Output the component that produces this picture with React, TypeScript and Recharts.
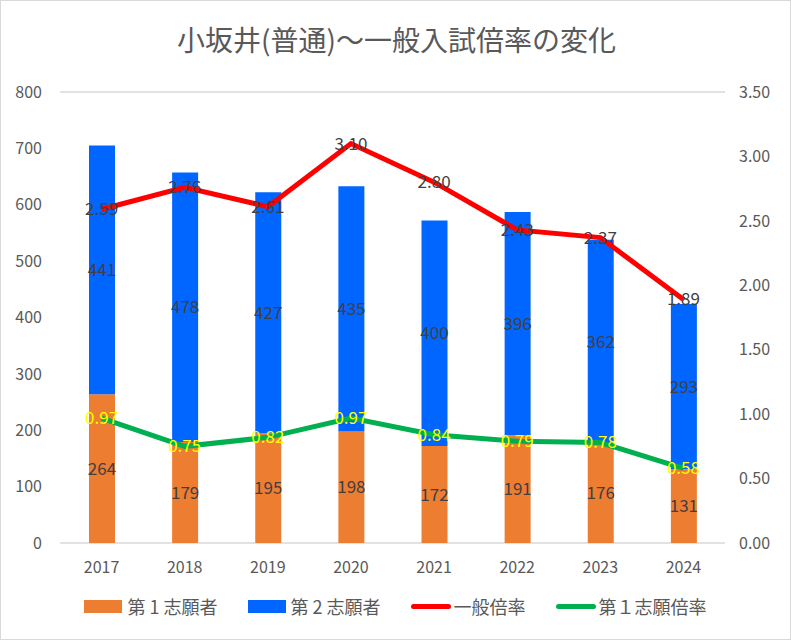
import React from "react";
import { ComposedChart, Bar, Line, XAxis, YAxis, CartesianGrid, Legend, LabelList } from "recharts";

const years = ["2017", "2018", "2019", "2020", "2021", "2022", "2023", "2024"];
const first = [264, 179, 195, 198, 172, 191, 176, 131];
const second = [441, 478, 427, 435, 400, 396, 362, 293];
const generalRate = [2.59, 2.76, 2.61, 3.10, 2.80, 2.43, 2.37, 1.89];
const firstRate = [0.97, 0.75, 0.82, 0.97, 0.84, 0.79, 0.78, 0.58];
const leftTicks = [0, 100, 200, 300, 400, 500, 600, 700, 800];
const rightTicks = [0, 0.5, 1, 1.5, 2, 2.5, 3, 3.5];

const data = years.map((y, i) => ({
  year: y,
  first: first[i],
  second: second[i],
  general: generalRate[i],
  firstRate: firstRate[i],
}));

const FONT = "'Noto Sans CJK JP', 'Noto Sans', sans-serif";
const GRAY = "#595959";

const lineLabel = (color: string) => (props: any) => {
  const { x, y, value } = props;
  return (
    <text x={x} y={y} dy={6} textAnchor="middle" fill={color} fontSize={17} fontFamily={FONT}>
      {Number(value).toFixed(2)}
    </text>
  );
};

const barLabel = (props: any) => {
  const { x, y, width, height, value } = props;
  return (
    <text x={x + width / 2} y={y + height / 2} dy={6} textAnchor="middle" fill="#404040" fontSize={17} fontFamily={FONT}>
      {value}
    </text>
  );
};

const legendItems = [
  { label: "第 1 志願者", color: "#ED7D31", type: "rect" },
  { label: "第 2 志願者", color: "#0066FF", type: "rect" },
  { label: "一般倍率", color: "#FF0000", type: "line" },
  { label: "第１志願倍率", color: "#00B050", type: "line" },
];

const renderLegend = () => (
  <div style={{ display: "flex", justifyContent: "center", alignItems: "center", height: 60, paddingBottom: 6, boxSizing: "border-box", fontFamily: FONT, fontSize: 18, color: GRAY }}>
    {legendItems.map((it) => (
      <div key={it.label} style={{ display: "flex", alignItems: "center", margin: "0 15px" }}>
        {it.type === "rect" ? (
          <div style={{ width: 38, height: 13, background: it.color, marginRight: 5 }} />
        ) : (
          <div style={{ width: 40, height: 5, borderRadius: 3, background: it.color, marginRight: 3 }} />
        )}
        <span>{it.label}</span>
      </div>
    ))}
  </div>
);

export default function App() {
  return (
    <div style={{ position: "absolute", left: 0, top: 0, width: 791, height: 640, boxSizing: "border-box", border: "1px solid #d9d9d9", background: "#fff" }}>
      <div style={{ position: "absolute", left: 0, top: 18, width: 791, textAlign: "center", fontFamily: FONT, fontSize: 28, color: GRAY }}>
        小坂井(普通)～一般入試倍率の変化
      </div>
      <div style={{ position: "absolute", left: -1, top: -1 }}>
        <ComposedChart width={791} height={640} data={data} margin={{ top: 92, right: 0, bottom: 0, left: 0 }}>
          <CartesianGrid vertical={false} stroke="#d9d9d9" strokeWidth={1.5} />
          <XAxis dataKey="year" axisLine={false} tickLine={false} height={36} tick={{ fill: GRAY, fontSize: 16, fontFamily: FONT }} tickMargin={13} />
          <YAxis yAxisId="left" width={60} domain={[0, 800]} ticks={leftTicks} axisLine={false} tickLine={false} tickSize={0} tickMargin={18} tick={{ fill: GRAY, fontSize: 16, fontFamily: FONT }} interval={0} />
          <YAxis yAxisId="right" orientation="right" width={66} domain={[0, 3.5]} ticks={rightTicks} axisLine={false} tickLine={false} tickSize={0} tickMargin={14} tick={{ fill: GRAY, fontSize: 16, fontFamily: FONT, textAnchor: "start" }} tickFormatter={(v: number) => v.toFixed(2)} interval={0} />
          <Legend verticalAlign="bottom" height={61} content={renderLegend} />
          <Bar yAxisId="left" dataKey="first" stackId="a" fill="#ED7D31" barSize={26} isAnimationActive={false}>
            <LabelList dataKey="first" content={barLabel} />
          </Bar>
          <Bar yAxisId="left" dataKey="second" stackId="a" fill="#0066FF" barSize={26} isAnimationActive={false}>
            <LabelList dataKey="second" content={barLabel} />
          </Bar>
          <Line yAxisId="right" dataKey="general" stroke="#FF0000" strokeWidth={5} dot={false} isAnimationActive={false}>
            <LabelList dataKey="general" content={lineLabel("#404040")} />
          </Line>
          <Line yAxisId="right" dataKey="firstRate" stroke="#00B050" strokeWidth={5} dot={false} isAnimationActive={false}>
            <LabelList dataKey="firstRate" content={lineLabel("#FFFF00")} />
          </Line>
        </ComposedChart>
      </div>
    </div>
  );
}
